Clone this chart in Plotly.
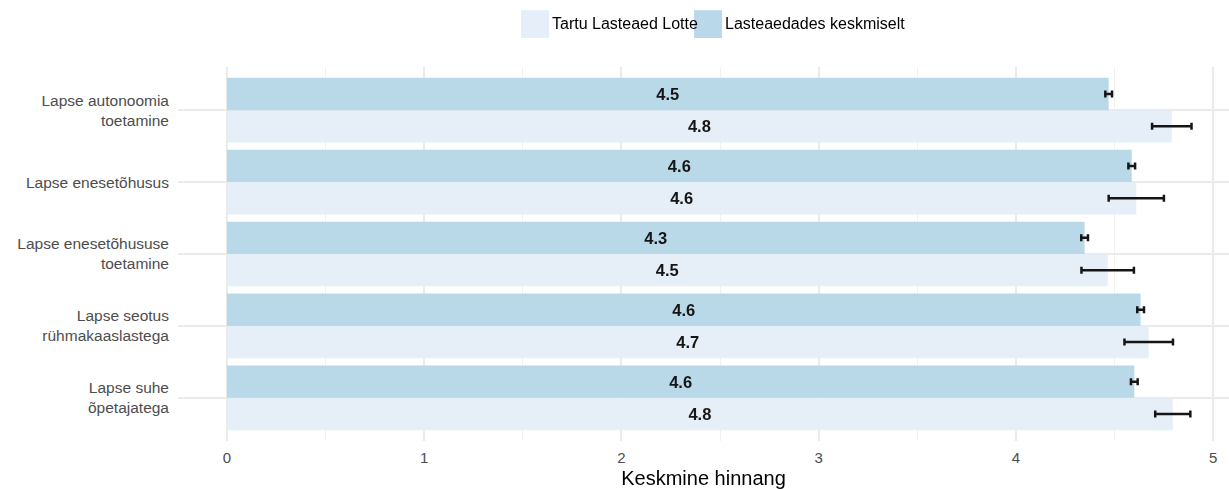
import plotly.graph_objects as go

categories = [
    "Lapse autonoomia<br>toetamine",
    "Lapse enesetõhusus",
    "Lapse enesetõhususe<br>toetamine",
    "Lapse seotus<br>rühmakaaslastega",
    "Lapse suhe<br>õpetajatega",
]
series_names = ["Tartu Lasteaed Lotte", "Lasteaedades keskmiselt"]
lotte_values = [4.79, 4.61, 4.465, 4.673, 4.795]
lotte_err = [0.10, 0.14, 0.133, 0.123, 0.089]
avg_values = [4.47, 4.587, 4.348, 4.632, 4.60]
avg_err = [0.017, 0.017, 0.017, 0.017, 0.017]
x_ticks = [0, 1, 2, 3, 4, 5]

lotte_color = "rgb(228,237,248)"
avg_color = "rgb(179,214,232)"
font_family = "Liberation Sans, Arial, sans-serif"

fig = go.Figure()
for name, vals, errs, col in [
    (series_names[0], lotte_values, lotte_err, lotte_color),
    (series_names[1], avg_values, avg_err, avg_color),
]:
    fig.add_trace(go.Bar(
        name=name,
        y=categories, x=vals, orientation="h",
        marker=dict(color=col, line=dict(width=0)),
        opacity=0.92,
        error_x=dict(type="data", array=errs, color="black", thickness=2.5, width=3.5),
        texttemplate="%{x:.1f}", textposition="inside", insidetextanchor="middle",
        textfont=dict(color="black", size=16.5, family=font_family, weight="bold"),
        constraintext="none",
        showlegend=False,
    ))

# custom legend (large square swatches like the reference)
legend_items = [
    (series_names[0], lotte_color, 0.3264, 0.3530, 0.3540),
    (series_names[1], avg_color, 0.4910, 0.5176, 0.5186),
]
for name, col, x0, x1, xt in legend_items:
    fig.add_shape(type="rect", xref="paper", yref="paper", x0=x0, x1=x1, y0=1.0775, y1=1.152,
                  fillcolor=col, line=dict(width=0), opacity=0.92)
    fig.add_annotation(text=name, xref="paper", yref="paper", x=xt, y=1.115,
                       xanchor="left", yanchor="middle", showarrow=False,
                       font=dict(size=16, color="black", family=font_family))

fig.update_layout(
    width=1229, height=489,
    barmode="group", bargap=0.1, bargroupgap=0,
    plot_bgcolor="white", paper_bgcolor="white",
    margin=dict(l=178, r=0, t=67, b=48),
    font=dict(family=font_family, color="rgb(77,77,77)", size=15),
    showlegend=False,
    xaxis=dict(
        range=[-0.248, 5.08], tickvals=x_ticks, ticktext=[str(t) for t in x_ticks],
        showgrid=True, gridcolor="rgb(235,235,235)", gridwidth=2, zeroline=False,
        minor=dict(dtick=0.5, tick0=0, showgrid=True, gridcolor="rgb(240,240,240)", gridwidth=1),
        tickfont=dict(size=15, color="rgb(77,77,77)"),
        ticklabelstandoff=6,
        title=dict(text="Keskmine hinnang", font=dict(size=20, color="black"), standoff=9),
        automargin=False,
    ),
    yaxis=dict(
        categoryorder="array", categoryarray=categories[::-1],
        range=[-0.6, 4.6],
        showgrid=True, gridcolor="rgb(235,235,235)", gridwidth=2,
        tickfont=dict(size=15.5, color="rgb(77,77,77)"),
        ticklabelstandoff=8,
        automargin=False,
    ),
)

fig.write_html("out.html", config={"displayModeBar": False},
               post_script="document.body.style.margin='0';document.body.style.overflow='hidden';")
